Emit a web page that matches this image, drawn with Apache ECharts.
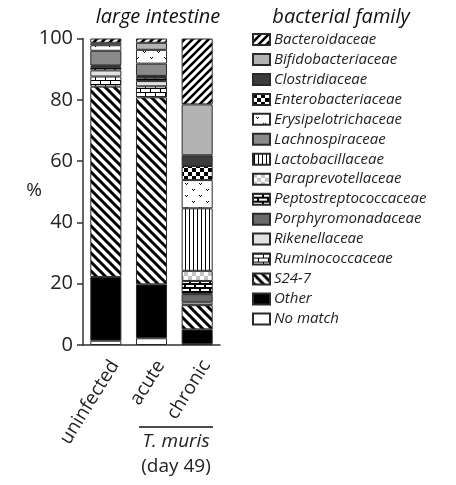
<!DOCTYPE html>
<html>
<head>
<meta charset="utf-8">
<script src="https://cdn.jsdelivr.net/npm/echarts@6/dist/echarts.min.js"></script>
<style>
  html, body { margin: 0; padding: 0; background: #fff; }
  #chart { width: 456px; height: 485px; }
</style>
</head>
<body>
<div id="chart"></div>
<script>
// Groups on the x axis
const groups = ['uninfected', 'acute', 'chronic'];

// Relative abundance (%) per bacterial family, one value per group
const bacteroidaceae        = [1.4, 1.4, 21.5];
const bifidobacteriaceae    = [0.8, 2.3, 16.6];
const clostridiaceae        = [0, 0, 3.5];
const enterobacteriaceae    = [0, 0, 4.6];
const erysipelotrichaceae   = [1.8, 4.5, 9.2];
const lachnospiraceae       = [4.8, 4.0, 0];
const lactobacillaceae      = [0.3, 0.3, 20.4];
const paraprevotellaceae    = [0.3, 0.3, 3.3];
const peptostreptococcaceae = [1.0, 1.1, 4.3];
const porphyromonadaceae    = [0, 0, 2.7];
const rikenellaceae         = [2.0, 1.7, 0.9];
const ruminococcaceae       = [3.3, 3.6, 0];
const s24_7                 = [62.1, 61.0, 7.9];
const other                 = [20.8, 17.6, 4.8];
const noMatch               = [1.4, 2.2, 0.3];

// Y axis ticks
const yTicks = [0, 20, 40, 60, 80, 100];

// Family names in legend order (top of the stack first)
const familyNames = [
  'Bacteroidaceae', 'Bifidobacteriaceae', 'Clostridiaceae', 'Enterobacteriaceae',
  'Erysipelotrichaceae', 'Lachnospiraceae', 'Lactobacillaceae', 'Paraprevotellaceae',
  'Peptostreptococcaceae', 'Porphyromonadaceae', 'Rikenellaceae', 'Ruminococcaceae',
  'S24-7', 'Other', 'No match'
];
const familyValues = [
  bacteroidaceae, bifidobacteriaceae, clostridiaceae, enterobacteriaceae,
  erysipelotrichaceae, lachnospiraceae, lactobacillaceae, paraprevotellaceae,
  peptostreptococcaceae, porphyromonadaceae, rikenellaceae, ruminococcaceae,
  s24_7, other, noMatch
];

// ---- fill patterns ----
function tile(w, h, bg, draw) {
  const c = document.createElement('canvas');
  c.width = w; c.height = h;
  const g = c.getContext('2d');
  g.fillStyle = bg; g.fillRect(0, 0, w, h);
  if (draw) draw(g, w, h);
  return { image: c, repeat: 'repeat' };
}
function diag(size, lw, forward) {
  return tile(size, size, '#fff', (g, w, h) => {
    g.strokeStyle = '#000'; g.lineWidth = lw; g.lineCap = 'square';
    g.beginPath();
    if (forward) {
      g.moveTo(-2, h + 2); g.lineTo(w + 2, -2);
      g.moveTo(-2 - w, h + 2); g.lineTo(2, -2);
      g.moveTo(w - 2, h + 2); g.lineTo(2 * w + 2, -2);
    } else {
      g.moveTo(-2, -2); g.lineTo(w + 2, h + 2);
      g.moveTo(-2 - w, -2); g.lineTo(2, h + 2);
      g.moveTo(w - 2, -2); g.lineTo(2 * w + 2, h + 2);
    }
    g.stroke();
  });
}
function checker(size, a, b) {
  return tile(size * 2, size * 2, b, g => {
    g.fillStyle = a;
    g.fillRect(0, 0, size, size);
    g.fillRect(size, size, size, size);
  });
}
const fills = {
  'Bacteroidaceae': diag(8, 2.6, true),
  'Bifidobacteriaceae': '#b3b3b3',
  'Clostridiaceae': '#3c3c3c',
  'Enterobacteriaceae': checker(4, '#000', '#fff'),
  'Erysipelotrichaceae': tile(14, 12, '#fff', g => {
    g.fillStyle = '#000';
    [[3, 3], [10, 9]].forEach(([x, y]) => {
      g.fillRect(x, y, 1, 1); g.fillRect(x + 2, y, 1, 1); g.fillRect(x + 1, y + 1, 1, 1);
    });
  }),
  'Lachnospiraceae': '#8a8a8a',
  'Lactobacillaceae': tile(4, 4, '#fff', g => { g.fillStyle = '#000'; g.fillRect(1, 0, 1, 4); }),
  'Paraprevotellaceae': checker(4, '#c4c4c4', '#fff'),
  'Peptostreptococcaceae': tile(10, 8, '#000', g => {
    g.fillStyle = '#fff';
    g.fillRect(1, 1, 8, 2);
    g.fillRect(6, 5, 4, 2); g.fillRect(0, 5, 4, 2);
  }),
  'Porphyromonadaceae': '#6a6a6a',
  'Rikenellaceae': '#e2e2e2',
  'Ruminococcaceae': tile(10, 8, '#fff', g => {
    g.fillStyle = '#000';
    g.fillRect(0, 0, 10, 1); g.fillRect(0, 4, 10, 1);
    g.fillRect(0, 0, 1, 4); g.fillRect(5, 4, 1, 4);
  }),
  'S24-7': diag(9, 3, false),
  'Other': '#000',
  'No match': '#fff'
};

// Stack from the bottom: last legend entry sits at the base of the bar
const series = familyNames.slice().reverse().map(name => {
  const vals = familyValues[familyNames.indexOf(name)];
  return {
    name: name,
    type: 'bar',
    stack: 'total',
    barWidth: '68%',
    data: vals.map(v => (v > 0 ? v : null)),
    itemStyle: { color: fills[name], borderColor: '#2a2a2a', borderWidth: 1 }
  };
});

const FONT = 'Open Sans';
const chart = echarts.init(document.getElementById('chart'), null, { renderer: 'canvas' });
chart.setOption({
  animation: false,
  textStyle: { fontFamily: FONT },
  title: [
    { text: 'large intestine', left: 153, top: 2, textAlign: 'center',
      textStyle: { fontFamily: FONT, fontStyle: 'italic', fontWeight: 'normal', fontSize: 20, color: '#111' } },
    { text: 'bacterial family', left: 336, top: 2, textAlign: 'center',
      textStyle: { fontFamily: FONT, fontStyle: 'italic', fontWeight: 'normal', fontSize: 20, color: '#111' } }
  ],
  legend: {
    data: familyNames,
    orient: 'vertical',
    left: 247,
    top: 27,
    itemWidth: 17,
    itemHeight: 11,
    itemGap: 4.96,
    icon: 'rect',
    selectedMode: false,
    textStyle: { fontFamily: FONT, fontStyle: 'italic', fontSize: 15, lineHeight: 15, color: '#222', padding: [0, 0, 0, -1] }
  },
  grid: { left: 83, right: 236, top: 38.5, bottom: 140, containLabel: false },
  xAxis: {
    type: 'category',
    data: groups,
    axisLine: { lineStyle: { color: '#333', width: 1.5 } },
    axisTick: { alignWithLabel: true, length: 6, lineStyle: { color: '#333', width: 1.5 } },
    axisLabel: { show: false }
  },
  yAxis: {
    type: 'value',
    min: 0, max: 100, interval: 20,
    axisLine: { show: true, lineStyle: { color: '#333', width: 1.5 } },
    axisTick: { show: true, length: 6, lineStyle: { color: '#333', width: 1.5 } },
    splitLine: { show: false },
    axisLabel: {
      fontSize: 20, color: '#222', margin: 10, fontFamily: FONT,
      formatter: v => (yTicks.indexOf(v) >= 0 ? String(v) : '')
    }
  },
  graphic: [
    { id: 'ytitle', type: 'text', x: 34, y: 191, style: { text: '%', font: '19px "Open Sans"', fill: '#222', align: 'center', verticalAlign: 'middle' } },
    { id: 'bracket', type: 'line', shape: { x1: 139, y1: 427, x2: 213, y2: 427 }, style: { stroke: '#111', lineWidth: 1.5 } },
    { id: 'muris', type: 'text', x: 176, y: 442, style: { text: 'T. muris', font: 'italic 19px "Open Sans"', fill: '#222', align: 'center', verticalAlign: 'middle' } },
    { id: 'day', type: 'text', x: 176, y: 467, style: { text: '(day 49)', font: '19px "Open Sans"', fill: '#222', align: 'center', verticalAlign: 'middle' } }
  ],
  series: series
});

// Slanted group labels, hung from the category ticks of the x axis
const axisY = chart.convertToPixel({ yAxisIndex: 0 }, 0);
chart.setOption({
  graphic: groups.map((g, i) => ({
    id: 'xlab' + i,
    type: 'text',
    x: chart.convertToPixel({ xAxisIndex: 0 }, g) + 1,
    y: axisY + 12,
    rotation: 58 * Math.PI / 180,
    style: { text: g, font: '19px "Open Sans"', fill: '#222', align: 'right', verticalAlign: 'top' }
  }))
});
</script>
</body>
</html>
